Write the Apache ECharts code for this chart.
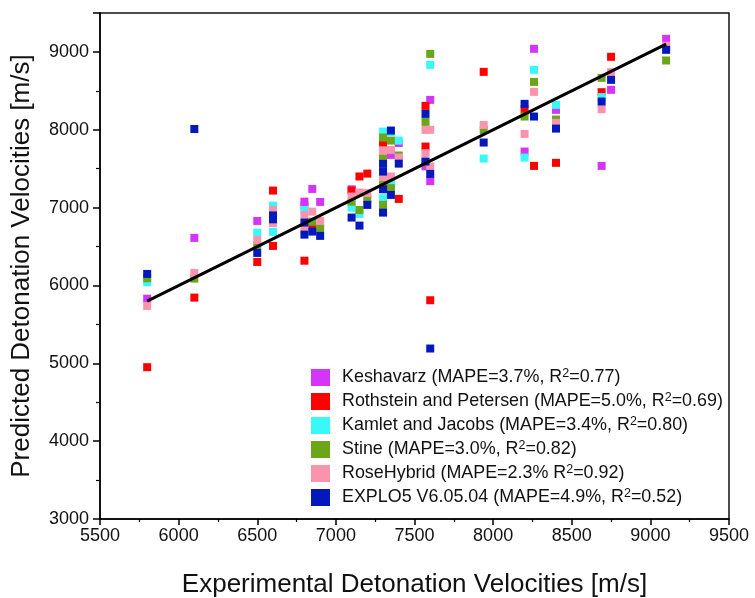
<!DOCTYPE html>
<html>
<head>
<meta charset="utf-8">
<script src="https://cdn.jsdelivr.net/npm/echarts@6/dist/echarts.min.js"></script>
<style>html,body{margin:0;padding:0;background:#fff}#c{width:755px;height:598px}</style>
</head>
<body>
<div id="c"></div>
<script>
// Experimental vs predicted detonation velocities [m/s], pairs [experimental, predicted]
const keshavarz = [[5800,5830],[6100,6611],[6500,6829],[6800,7077],[6800,7026],[6850,7240],[6900,7073],[7100,7235],[7350,7677],[7400,7830],[7570,7530],[7600,8384],[7600,7340],[8200,7720],[8260,9040],[8400,8256],[8690,7536],[8750,8513],[9100,9168]];
const rothstein = [[5800,4950],[6100,5844],[6500,6302],[6600,7219],[6600,6508],[6800,6318],[6850,6765],[7100,7219],[7150,7400],[7200,7437],[7300,7835],[7400,7112],[7570,8307],[7570,7784],[7600,5810],[7940,8744],[8200,8264],[8260,7536],[8400,7575],[8690,8483],[8750,8937],[9100,9070]];
const kamlet = [[5800,6042],[6500,6679],[6600,7026],[6600,6688],[6800,6970],[7100,7000],[7150,6919],[7300,7977],[7300,7121],[7350,7970],[7350,7314],[7400,7861],[7600,8834],[7940,7630],[8200,7643],[8260,8770],[8400,8320],[8690,8420],[9100,9060]];
const stine = [[5800,6093],[6100,6088],[6500,6516],[6850,6820],[6900,6735],[7100,7077],[7150,6970],[7200,7112],[7300,7900],[7300,7648],[7300,7314],[7300,7035],[7350,7861],[7350,7250],[7400,7670],[7570,8101],[7570,7580],[7600,8975],[7940,7998],[8200,8170],[8260,8615],[8400,8131],[8690,8667],[9100,8890]];
const roseHybrid = [[5800,5737],[6100,6161],[6500,6585],[6600,6970],[6600,6800],[6800,6906],[6800,6726],[6850,6949],[6900,6829],[7100,7142],[7150,7194],[7200,7186],[7300,7729],[7300,7391],[7350,7742],[7350,7400],[7400,7643],[7570,7998],[7570,7699],[7600,8000],[7600,7528],[7940,8062],[8200,7947],[8260,8487],[8400,8089],[8690,8264],[8750,8740],[9100,9080]];
const explo5 = [[5800,6148],[6100,8010],[6500,6418],[6600,6900],[6600,6850],[6800,6808],[6800,6653],[6850,6692],[6900,6637],[7100,6872],[7150,6769],[7200,7035],[7300,7562],[7300,7463],[7300,7236],[7300,6936],[7350,7990],[7350,7163],[7400,7565],[7570,8204],[7570,7592],[7600,7433],[7600,5190],[7940,7836],[8200,8333],[8260,8170],[8400,8015],[8690,8363],[8750,8641],[9100,9027]];
const parityLine = [[5800,5800],[9100,9100]];

const seriesNames = ['Keshavarz','Rothstein and Petersen','Kamlet and Jacobs','Stine','RoseHybrid','EXPLO5 V6.05.04'];
const seriesMape = ['3.7%,','5.0%,','3.4%,','3.0%,','2.3%','4.9%,'];
const seriesR2 = ['0.77','0.69','0.80','0.82','0.92','0.52'];
const seriesData = [keshavarz, rothstein, kamlet, stine, roseHybrid, explo5];
const seriesColors = ['#D535F7','#FF0000','#38F8F8','#6AA617','#FA93AE','#0319BC'];

const xTicks = {min:5500, max:9500, interval:500};
const yTicks = {min:3000, max:9500, interval:1000};

const FONT = '"Liberation Sans", Arial, sans-serif';
const chart = echarts.init(document.getElementById('c'), null, {renderer:'canvas'});

const series = seriesData.map((d,i)=>({
  name: seriesNames[i], type:'scatter', data:d, symbol:'rect', symbolSize:8,
  itemStyle:{color:seriesColors[i], opacity:1}, z:2+i
}));
series.push({
  name:'parity', type:'line', data:parityLine, showSymbol:false, symbol:'none',
  lineStyle:{color:'#000', width:3}, z:20, silent:true
});

chart.setOption({
  animation:false,
  backgroundColor:'#fff',
  grid:{left:100, right:26, top:13, bottom:79, show:true, borderColor:'#111', borderWidth:1.5,
    backgroundColor:'transparent', containLabel:false, outerBoundsMode:'none'},
  legend:{
    data: seriesNames.map((n,i)=>({name:n, itemStyle:{color:seriesColors[i]}})),
    orient:'vertical', left:306, top:362, itemWidth:19, itemHeight:17, itemGap:3, icon:'rect',
    formatter: function(name){
      const i = seriesNames.indexOf(name);
      return '{t|' + name + ' (MAPE=' + seriesMape[i] + ' R}{s|2}{t|=' + seriesR2[i] + ')}';
    },
    textStyle:{
      padding:[0,0,0,7],
      rich:{
        t:{fontSize:17.9, fontFamily:FONT, color:'#111', lineHeight:18},
        s:{fontSize:12.5, fontFamily:FONT, color:'#111', lineHeight:10, padding:[0,0,8,0]}
      }
    }
  },
  xAxis:{
    type:'value', min:xTicks.min, max:xTicks.max, interval:xTicks.interval,
    name:'Experimental Detonation Velocities [m/s]', nameLocation:'middle', nameGap:53,
    nameTextStyle:{fontSize:26, fontFamily:FONT, color:'#111'},
    axisLine:{show:true, onZero:false, lineStyle:{color:'#000', width:1.5}},
    axisTick:{show:true, inside:false, length:6, lineStyle:{color:'#000', width:1.5}},
    minorTick:{show:true, splitNumber:2, length:3, lineStyle:{color:'#000', width:1.2}},
    axisLabel:{fontSize:18, fontFamily:FONT, color:'#111', margin:8,
      formatter:function(v){ return String(v); }},
    splitLine:{show:false}
  },
  yAxis:{
    type:'value', min:yTicks.min, max:yTicks.max, interval:yTicks.interval,
    name:'Predicted Detonation Velocities [m/s]', nameLocation:'middle', nameGap:65,
    nameTextStyle:{fontSize:26, fontFamily:FONT, color:'#111'},
    axisLine:{show:true, onZero:false, lineStyle:{color:'#000', width:1.5}},
    axisTick:{show:true, inside:false, length:7, lineStyle:{color:'#000', width:1.5}},
    minorTick:{show:true, splitNumber:2, length:4, lineStyle:{color:'#000', width:1.2}},
    axisLabel:{fontSize:18, fontFamily:FONT, color:'#111', margin:11,
      formatter:function(v){ return v>9000 ? '' : String(v); }},
    splitLine:{show:false}
  },
  series: series
});
</script>
</body>
</html>
